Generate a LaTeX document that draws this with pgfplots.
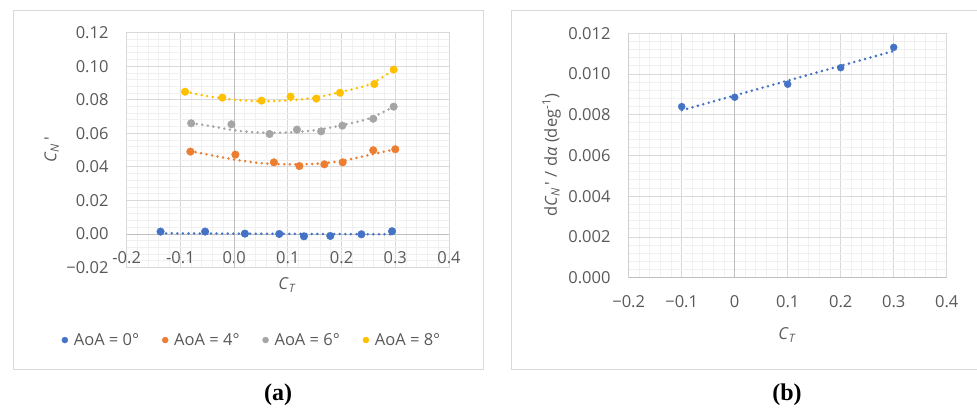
\documentclass[border=0pt]{standalone}
\usepackage{fontspec}
\setmainfont{Open Sans}
\newfontfamily\capfont{Liberation Serif}
\usepackage{pgfplots}
\pgfplotsset{compat=1.18}
\definecolor{txt}{HTML}{595959}
\definecolor{majg}{HTML}{D9D9D9}
\definecolor{ming}{HTML}{F0F0F0}
\definecolor{axg}{HTML}{BFBFBF}
\definecolor{cb}{HTML}{4472C4}
\definecolor{co}{HTML}{ED7D31}
\definecolor{cg}{HTML}{A5A5A5}
\definecolor{cy}{HTML}{FFC000}
\newcommand{\fs}{\fontsize{16.5}{19}\selectfont}
\pgfplotsset{
 exstyle/.style={
  scale only axis,
  anchor=south west,
  axis line style={draw=majg, line width=0.9pt},
  major grid style={draw=majg, line width=0.9pt},
  minor grid style={draw=ming, line width=0.9pt},
  grid=both,
  minor tick num=4,
  major tick length=0pt, minor tick length=0pt,
  scaled ticks=false,
  tick label style={font=\fs, text=txt},
  yticklabel style={anchor=east, inner sep=0pt, xshift=-18pt},
  xticklabel style={anchor=center, inner sep=0pt},
 },
 trend/.style={line width=2.8pt, dash pattern=on 0pt off 5.6pt, line cap=round, smooth, forget plot},
 pts/.style={only marks, mark=*, mark size=3.8pt},
}
\begin{document}
\begin{tikzpicture}[x=1pt,y=1pt]
\useasboundingbox (0,0) rectangle (977,410);
\draw[majg, line width=0.9pt] (13.3,40.3) rectangle (483.3,400);
\draw[majg, line width=0.9pt] (977,400) -- (511.7,400) -- (511.7,40.3) -- (977,40.3);

% ---------------- (a) ----------------
\begin{axis}[exstyle,
  at={(126.7pt,142.5pt)}, width=322.3pt, height=234.8pt,
  xmin=-0.2, xmax=0.4, ymin=-0.02, ymax=0.12,
  xtick={-0.2,-0.1,0,0.1,0.2,0.3,0.4},
  xticklabels={-0.2,-0.1,0.0,0.1,0.2,0.3,0.4},
  xticklabel style={yshift=9.5pt},
  ytick={-0.02,0,0.02,0.04,0.06,0.08,0.1,0.12},
  yticklabels={−0.02,0.00,0.02,0.04,0.06,0.08,0.10,0.12},
  legend style={at={(0.389,-0.309)}, anchor=center, draw=none, fill=none,
    font=\fs, text=txt, legend columns=4, inner sep=0pt,
    /tikz/every odd column/.append style={column sep=4pt},
    /tikz/every even column/.append style={column sep=21pt}},
  legend image code/.code={\draw[#1, mark size=3pt] plot coordinates {(0.1cm,0cm)};},
]
\draw[axg, line width=0.9pt] (axis cs:0,-0.02) -- (axis cs:0,0.12);
\draw[axg, line width=0.9pt] (axis cs:-0.2,0) -- (axis cs:0.4,0);
% trendlines
\addplot[trend, cb] coordinates {(-0.137,0.0004) (0.08,0.0001) (0.294,-0.0002)};
\addplot[trend, co] coordinates {(-0.082,0.0495) (-0.045,0.0471) (0.005,0.0441) (0.054,0.0421) (0.104,0.0415) (0.154,0.0419) (0.203,0.0437) (0.253,0.0472) (0.300,0.0505)};
\addplot[trend, cg] coordinates {(-0.080,0.0660) (-0.045,0.0644) (0.005,0.0616) (0.054,0.0604) (0.104,0.0606) (0.154,0.0620) (0.203,0.0650) (0.253,0.0690) (0.297,0.0759)};
\addplot[trend, cy] coordinates {(-0.091,0.0849) (-0.045,0.0819) (0.005,0.0799) (0.054,0.0791) (0.104,0.0797) (0.154,0.0815) (0.203,0.0850) (0.253,0.0893) (0.297,0.0978)};
% data
\addplot[pts, cb, mark options={fill=cb, draw=cb}] coordinates {(-0.137,0.0014) (-0.054,0.0014) (0.020,0.0002) (0.084,0.0000) (0.130,-0.0014) (0.179,-0.0012) (0.237,-0.0002) (0.294,0.0016)};
\addlegendentry{AoA = 0°}
\addplot[pts, co, mark options={fill=co, draw=co}] coordinates {(-0.0815,0.0491) (0.0023,0.0473) (0.074,0.0427) (0.1215,0.0405) (0.168,0.0415) (0.202,0.0427) (0.259,0.0499) (0.300,0.0505)};
\addlegendentry{AoA = 4°}
\addplot[pts, cg, mark options={fill=cg, draw=cg}] coordinates {(-0.080,0.0660) (-0.005,0.0654) (0.066,0.0596) (0.117,0.0622) (0.162,0.0612) (0.2015,0.0646) (0.259,0.0687) (0.297,0.0759)};
\addlegendentry{AoA = 6°}
\addplot[pts, cy, mark options={fill=cy, draw=cy}] coordinates {(-0.0914,0.0848) (-0.022,0.0813) (0.051,0.0795) (0.105,0.0819) (0.153,0.0807) (0.197,0.0842) (0.261,0.0894) (0.297,0.0980)};
\addlegendentry{AoA = 8°}
\end{axis}
\node[text=txt, font=\fs] at (287.3,125) {\textit{C}\textsubscript{\textit{T}}};
\node[text=txt, font=\fs, rotate=90] at (51.7,260) {\textit{C}\textsubscript{\textit{N}}\,′};
\node[font=\capfont\fontsize{24}{28}\selectfont\bfseries] at (278,15) {(a)};

% ---------------- (b) ----------------
\begin{axis}[exstyle,
  at={(628.7pt,132.3pt)}, width=318pt, height=244.4pt,
  xmin=-0.2, xmax=0.4, ymin=0, ymax=0.012,
  xtick={-0.2,-0.1,0,0.1,0.2,0.3,0.4},
  xticklabels={−0.2,−0.1,0,0.1,0.2,0.3,0.4},
  xticklabel style={yshift=-24pt},
  ytick={0,0.002,0.004,0.006,0.008,0.01,0.012},
  yticklabels={0.000,0.002,0.004,0.006,0.008,0.010,0.012},
]
\draw[axg, line width=0.9pt] (axis cs:0,0) -- (axis cs:0,0.012);
\draw[axg, line width=0.9pt] (axis cs:-0.2,0) -- (axis cs:0.4,0);
\draw[axg, line width=0.9pt] (axis cs:-0.2,0) -- (axis cs:-0.2,0.012);
\addplot[trend, cb] coordinates {(-0.1,0.00822) (0.3,0.01113)};
\addplot[pts, cb, mark size=3.5pt, mark options={fill=cb, draw=cb}] coordinates {(-0.1,0.0084) (0.0,0.00886) (0.1,0.0095) (0.2,0.01031) (0.3,0.01131)};
\end{axis}
\node[text=txt, font=\fs] at (787.3,75) {\textit{C}\textsubscript{\textit{T}}};
\node[text=txt, font=\fs, rotate=90] at (551.7,254.5) {d\textit{C}\textsubscript{\textit{N}}\,′ / d\textit{α} (deg\textsuperscript{-1})};
\node[font=\capfont\fontsize{24}{28}\selectfont\bfseries] at (787,15) {(b)};
\end{tikzpicture}
\end{document}
